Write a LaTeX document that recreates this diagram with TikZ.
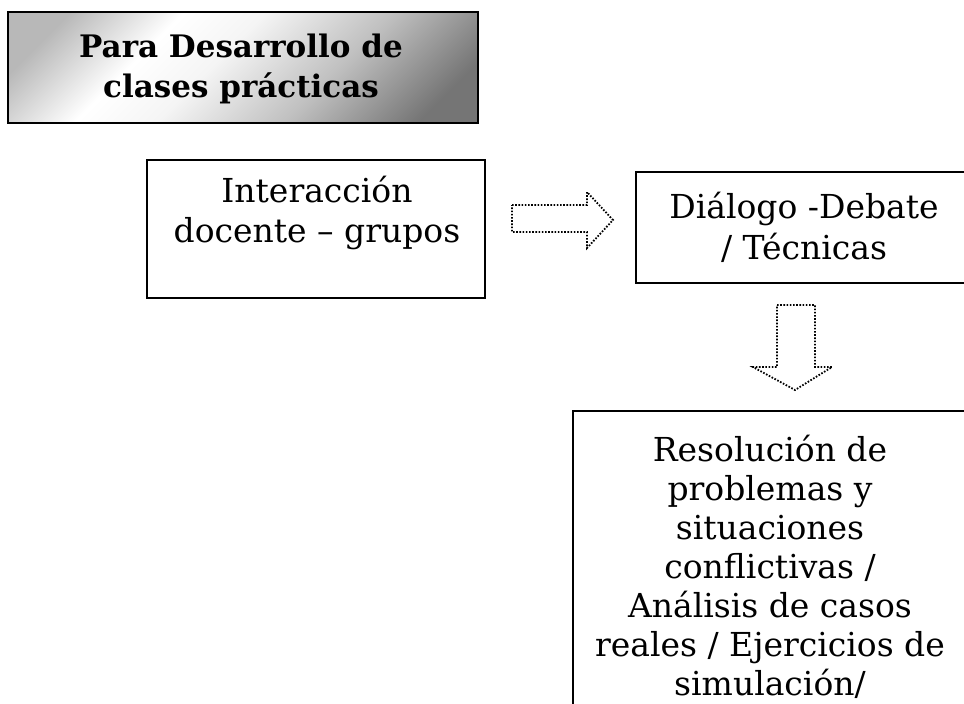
\documentclass[tikz,border=0pt]{standalone}
\usepackage{fontspec}
\setmainfont{DejaVu Serif}
\definecolor{tgA}{gray}{0.72}
\definecolor{tgB}{gray}{0.46}
\pgfdeclarehorizontalshading{titleshade}{100bp}{color(0bp)=(tgA); color(22bp)=(tgA); color(36bp)=(white); color(46bp)=(white!96!black); color(62bp)=(white!75!black); color(78bp)=(tgB); color(100bp)=(tgB)}
\begin{document}
\begin{tikzpicture}[x=1pt,y=-1pt,
  boxstyle/.style={draw=black, line width=2.4pt, rectangle, inner sep=0pt},
  bodytext/.style={font=\fontsize{33}{40}\selectfont, align=center, inner sep=0pt, anchor=base},
  titletext/.style={font=\bfseries\fontsize{31}{40}\selectfont, align=center, inner sep=0pt, anchor=base},
  dotarrow/.style={draw=black, line width=1.8pt, dash pattern=on 1.6pt off 1.6pt, line join=miter}]
\useasboundingbox (0,0) rectangle (964,704);
\clip (0,0) rectangle (964,704);
% title box
\shade[shading=titleshade, shading angle=-45] (8,12) rectangle (478,123);
\node[boxstyle, minimum width=470pt, minimum height=111pt] (b0) at (243,67.5) {};
\node[titletext] (t0) at (241,97) {Para Desarrollo de\\clases prácticas};
% box 1
\node[boxstyle, minimum width=338pt, minimum height=138pt] (b1) at (316,229) {};
\node[bodytext] (t1) at (317,242) {Interacción\\docente – grupos};
% box 2
\node[boxstyle, minimum width=337pt, minimum height=111pt] (b2) at (804.5,227.5) {};
\node[bodytext, font=\fontsize{33}{41}\selectfont] (t2) at (804,259) {Diálogo -Debate\\/ Técnicas};
% box 3
\node[boxstyle, minimum width=394pt, minimum height=349pt] (b3) at (770,585.5) {};
\node[bodytext, font=\fontsize{33}{39}\selectfont] (t3) at (770,695) {Resolución de\\problemas y\\situaciones\\conflictivas /\\Análisis de casos\\reales / Ejercicios de\\simulación/};
% right block arrow
\draw[dotarrow] (512,205) coordinate (ra1) -- (587,205) -- (587,192) -- (613,220) coordinate (ratip) -- (587,248) -- (587,232) -- (512,232) -- cycle;
% down block arrow
\draw[dotarrow] (777,305) coordinate (da1) -- (815,305) -- (815,367) -- (832,367) -- (795,390) coordinate (datip) -- (753,367) -- (777,367) -- cycle;
\end{tikzpicture}
\end{document}
